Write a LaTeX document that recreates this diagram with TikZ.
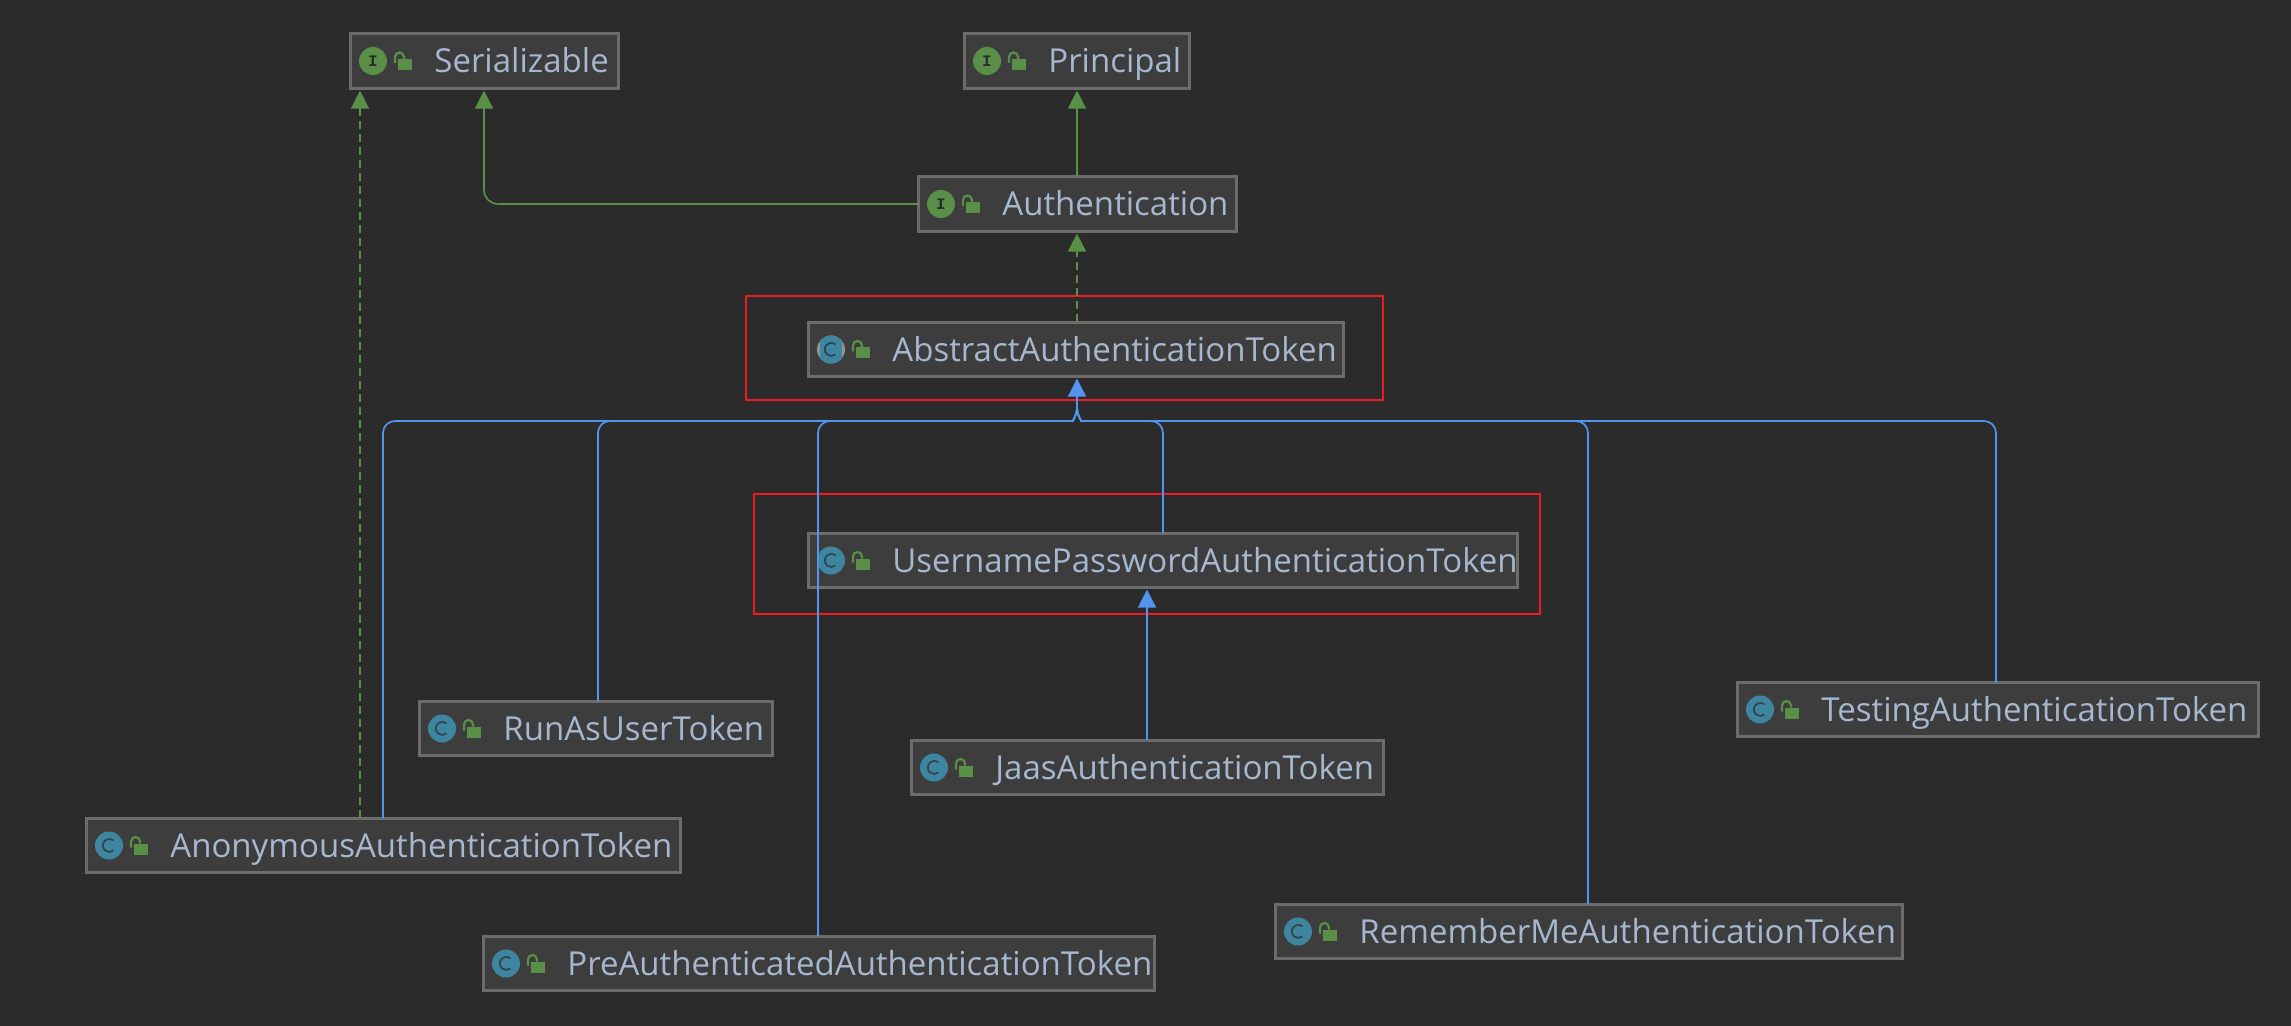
\documentclass[tikz,border=0pt]{standalone}
\usepackage{fontspec}
\setmainfont{Open Sans}
\newfontfamily\monoi{Liberation Mono}
\usetikzlibrary{arrows.meta}
\definecolor{bgc}{HTML}{2B2B2B}
\definecolor{boxc}{HTML}{3D3D3D}
\definecolor{edgec}{HTML}{6C6C6C}
\definecolor{txtc}{HTML}{A6B8CF}
\definecolor{grn}{HTML}{5A8F48}
\definecolor{blu}{HTML}{5394EC}
\definecolor{iconc}{HTML}{3E86A0}
\definecolor{redc}{HTML}{ED1C24}
\tikzset{
  x=0.5pt,y=-0.5pt,
  umlbox/.style={draw=edgec,fill=boxc,line width=1.4pt,rectangle,inner sep=0pt,outer sep=0pt},
  lbl/.style={anchor=base west,text=txtc,inner sep=0pt,font=\fontsize{16.5}{20}\selectfont},
  gline/.style={draw=grn,line width=0.8pt,-{Triangle[length=9pt,width=9pt,fill=grn,color=grn]},rounded corners=7pt,shorten >=1pt},
  gdash/.style={gline,dash pattern=on 4pt off 2.5pt},
  bline/.style={draw=blu,line width=0.85pt,rounded corners=6pt},
  bhead/.style={bline,-{Triangle[length=9pt,width=9pt,fill=blu]},shorten >=1pt},
}
% name, x1, y1, x2, y2, letter(I/C/A), text
\newcommand{\umlnode}[7]{%
  \pgfmathsetmacro{\cxx}{#2+24}
  \pgfmathsetmacro{\my}{(#3+#5)/2}
  \pgfmathsetmacro{\lx}{#2+49}
  \node[umlbox,minimum width=#4*0.5pt-#2*0.5pt-1.4pt,minimum height=#5*0.5pt-#3*0.5pt-1.4pt] (#1) at ({(#2+#4)/2},\my) {};
  \node[lbl] (#1t) at ({#2+85},\my+12) {#7};
  \fill[grn] (\lx,\my-2) rectangle (\lx+14,\my+9);
  \draw[grn,line width=1.1pt] (\lx-3,\my+2) -- (\lx-3,\my-4) arc[start angle=180,end angle=360,radius=4.5] -- (\lx+6,\my-2);
  \ifx#6I
    \fill[grn] (\cxx,\my) circle[radius=14];
    \node[inner sep=0pt,text=bgc,font=\monoi\bfseries\fontsize{8}{8}\selectfont] at (\cxx,\my) {I};
  \else
    \ifx#6A
      \fill[gray!85] (\cxx,\my) circle[radius=14];
      \begin{scope}
        \clip (\cxx,\my) circle[radius=14];
        \fill[iconc] (\cxx-11,\my-15) rectangle (\cxx+11,\my+15);
      \end{scope}
    \else
      \fill[iconc] (\cxx,\my) circle[radius=14];
    \fi
    \draw[draw=bgc!70!iconc,line width=0.9pt] (\cxx+4.5,\my-5) arc[start angle=-50,end angle=-310,x radius=6.5,y radius=6.5];
  \fi
}
\begin{document}
\begin{tikzpicture}
\useasboundingbox[fill=bgc] (0,0) rectangle (2291,1026);

\umlnode{ser}{349}{32}{620}{90}{I}{Serializable}
\umlnode{prin}{963}{32}{1191}{90}{I}{Principal}
\umlnode{auth}{917}{175}{1238}{233}{I}{Authentication}
\umlnode{abs}{807}{321}{1345}{378}{A}{AbstractAuthenticationToken}
\umlnode{user}{807}{532}{1519}{589}{C}{UsernamePasswordAuthenticationToken}
\umlnode{runas}{418}{700}{774}{757}{C}{RunAsUserToken}
\umlnode{jaas}{910}{739}{1385}{796}{C}{JaasAuthenticationToken}
\umlnode{test}{1736}{681}{2260}{738}{C}{TestingAuthenticationToken}
\umlnode{anon}{85}{817}{682}{874}{C}{AnonymousAuthenticationToken}
\umlnode{pre}{482}{935}{1156}{992}{C}{PreAuthenticatedAuthenticationToken}
\umlnode{rem}{1274}{903}{1904}{960}{C}{RememberMeAuthenticationToken}

\node[draw=redc,line width=1pt,inner sep=0pt,minimum width=318.5pt,minimum height=52pt] (redA) at (1064.5,348) {};
\node[draw=redc,line width=1pt,inner sep=0pt,minimum width=393pt,minimum height=60pt] (redB) at (1147,554) {};

% green
\draw[gdash] (360,0 |- anon.north) -- (360,0 |- ser.south);
\draw[gline] (auth.west) -- (484,0 |- auth.west) -- (484,0 |- ser.south);
\draw[gline] (1077,0 |- auth.north) -- (1077,0 |- prin.south);
\draw[gdash] (1077,0 |- abs.north) -- (1077,0 |- auth.south);

% blue
\coordinate (busj) at (1077,407);
\draw[bhead] (busj) -- (1077,0 |- abs.south);
\foreach \n/\x in {anon/383,runas/598,pre/818}{
  \draw[bline] (\x,0 |- \n.north) -- (\x,421) -- (1061,421) .. controls (1072,421) and (1077,416) .. (busj);
}
\foreach \n/\x in {user/1163,rem/1588,test/1996}{
  \draw[bline] (\x,0 |- \n.north) -- (\x,421) -- (1093,421) .. controls (1082,421) and (1077,416) .. (busj);
}
\draw[bhead] (1147,0 |- jaas.north) -- (1147,0 |- user.south);
\end{tikzpicture}
\end{document}
